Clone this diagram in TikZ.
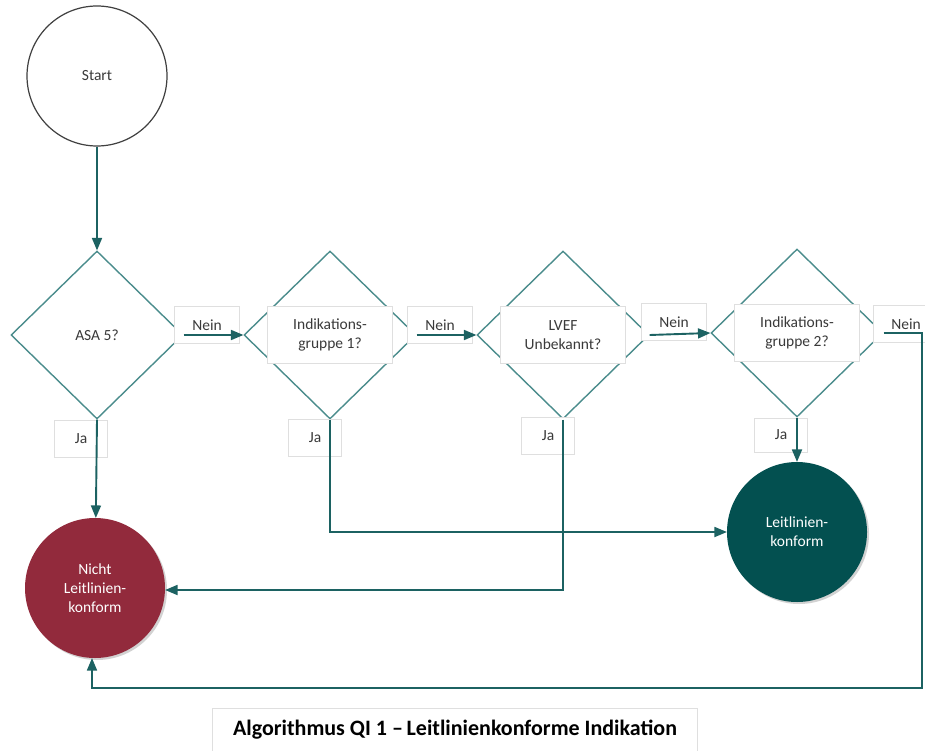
\documentclass[tikz,border=0pt]{standalone}
\usepackage{fontspec}
\setmainfont{Carlito}
\usepackage{xcolor}
\usepackage{tikz}
\usetikzlibrary{shapes,arrows,positioning,calc,shadows}

\definecolor{flowline}{HTML}{1C6262}
\definecolor{rautline}{HTML}{4A8C8C}
\definecolor{nichtrot}{HTML}{922A3C}
\definecolor{konfgruen}{HTML}{035050}
\definecolor{txtgrau}{HTML}{3A3A3A}

\tikzset{
  raute/.style={diamond,draw=rautline,line width=1.4pt,minimum width=172pt,minimum height=168pt,inner sep=0pt,text=txtgrau},
  frage/.style={draw=gray!25,fill=white,minimum width=125pt,minimum height=57pt,align=center,text=txtgrau,font=\fontsize{15.5}{19}\selectfont},
  antwort/.style={draw=gray!25,fill=white,minimum width=58pt,minimum height=37pt,text=txtgrau,font=\fontsize{15.5}{19}\selectfont},
  pfeil/.style={draw=flowline,line width=1.9pt,-triangle 45},
  ende/.style={circle,minimum size=140pt,inner sep=0pt,text=white,align=center,font=\fontsize{15.5}{19}\selectfont,drop shadow={opacity=0.35,shadow xshift=2pt,shadow yshift=-2pt}}
}

\begin{document}
\begin{tikzpicture}[x=1pt,y=-1pt]
\useasboundingbox[fill=white] (0,0) rectangle (925,751);
% Start, vier Abfragen, zwei Ergebnisse
\node[circle,draw=darkgray,line width=1.2pt,minimum size=140pt,text=txtgrau,font=\fontsize{15.5}{19}\selectfont] (start) at (97,76) {Start};

\node[raute] (d1) at (97,335) {};
\node[raute] (d2) at (330,335) {};
\node[raute] (d3) at (563,335) {};
\node[raute] (d4) at (797,333) {};

\node[text=txtgrau,font=\fontsize{15.5}{19}\selectfont] (t1) at (d1) {ASA 5?};
\node[frage] (t2) at (d2) {Indikations-\\gruppe 1?};
\node[frage] (t3) at (d3) {LVEF\\Unbekannt?};
\node[frage] (t4) at (d4) {Indikations-\\gruppe 2?};

\node[antwort,minimum width=65pt] (n1) at (207,325) {Nein};
\node[antwort,minimum width=65pt] (n2) at (440,325) {Nein};
\node[antwort,minimum width=65pt] (n3) at (674,322) {Nein};
\node[antwort,minimum width=65pt] (n4) at (906,324) {Nein};

\node[antwort,minimum width=53pt] (j1) at (81,439) {Ja};
\node[antwort,minimum width=53pt] (j2) at (315,438) {Ja};
\node[antwort,minimum width=53pt] (j3) at (548,436) {Ja};
\node[antwort,minimum width=53pt,minimum height=34pt] (j4) at (781,435) {Ja};

\node[ende,fill=nichtrot] (nicht) at (95,588) {Nicht\\Leitlinien-\\konform};
\node[ende,fill=konfgruen] (leit) at (797,532) {Leitlinien-\\konform};

\coordinate (rechts) at (922,688);

\draw[pfeil] (start) -- (d1.north);
\draw[pfeil] (d1.east) -- (d2.west);
\draw[pfeil] (d2.east) -- (d3.west);
\draw[pfeil] (d3.east) -- (d4.west);
\draw[pfeil] (d1.south) -- (nicht);
\draw[pfeil] (d2.south) |- (leit.west);
\draw[pfeil] (d3.south) |- ([yshift=-2pt]nicht.east);
\draw[pfeil] (d4.south) -- (leit);
\draw[pfeil] (d4.east) -| (rechts) -| ([xshift=-3pt]nicht.south);

\node[draw=gray!25,minimum width=485pt,minimum height=44pt,font=\fontsize{22}{26}\selectfont\bfseries] (titel) at (455,730) {Algorithmus QI 1 --\,Leitlinienkonforme Indikation};
\end{tikzpicture}
\end{document}
